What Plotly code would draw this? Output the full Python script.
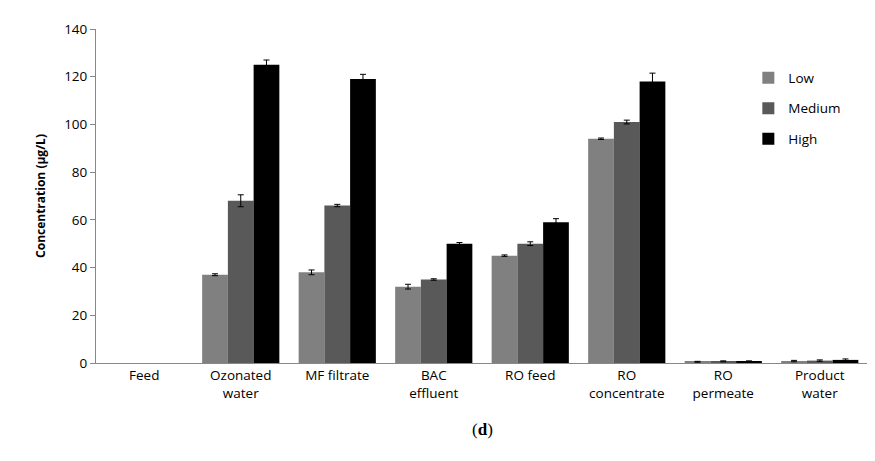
import plotly.graph_objects as go

categories = ["Feed", "Ozonated<br>water", "MF filtrate", "BAC<br>effluent", "RO feed",
              "RO<br>concentrate", "RO<br>permeate", "Product<br>water"]
low = [None, 37, 38, 32, 45, 94, 0.5, 0.8]
low_err = [None, 0.4, 1.0, 1.0, 0.3, 0.3, 0.2, 0.3]
medium = [None, 68, 66, 35, 50, 101, 0.7, 1.0]
medium_err = [None, 2.5, 0.5, 0.3, 0.8, 0.8, 0.2, 0.3]
high = [None, 125, 119, 50, 59, 118, 0.7, 1.3]
high_err = [None, 2.0, 2.0, 0.5, 1.5, 3.5, 0.2, 0.4]

fig = go.Figure()
for name, vals, errs, color in [("Low", low, low_err, "#808080"),
                                ("Medium", medium, medium_err, "#595959"),
                                ("High", high, high_err, "#000000")]:
    fig.add_trace(go.Bar(x=categories, y=vals, name=name, marker_color=color,
                         marker_line_width=0, legendgroup=name,
                         error_y=dict(type="data", array=errs, color="black",
                                      thickness=1, width=3)))

fig.update_layout(
    width=875, height=461,
    barmode="group", bargap=0.2, bargroupgap=0,
    plot_bgcolor="white", paper_bgcolor="white",
    font=dict(family="Open Sans", size=13.5, color="black"),
    margin=dict(l=88, r=15, t=17, b=106),
    legend=dict(x=0.845, y=0.9, xanchor="left", yanchor="top",
                font=dict(size=13.5), tracegroupgap=10),
    yaxis=dict(range=[0, 140], dtick=20, showline=True, linecolor="#888",
               ticks="outside", ticklen=5, tickcolor="#888", showgrid=False,
               title=dict(text="<b>Concentration (µg/L)</b>", font=dict(size=12))),
    xaxis=dict(showline=True, linecolor="#888", showgrid=False, tickangle=0),
    annotations=[dict(text="(<b>d</b>)", x=0.5, y=-0.235, xref="paper", yref="paper",
                      showarrow=False, font=dict(family="Liberation Serif", size=17))],
)
fig.write_html("out.html")
